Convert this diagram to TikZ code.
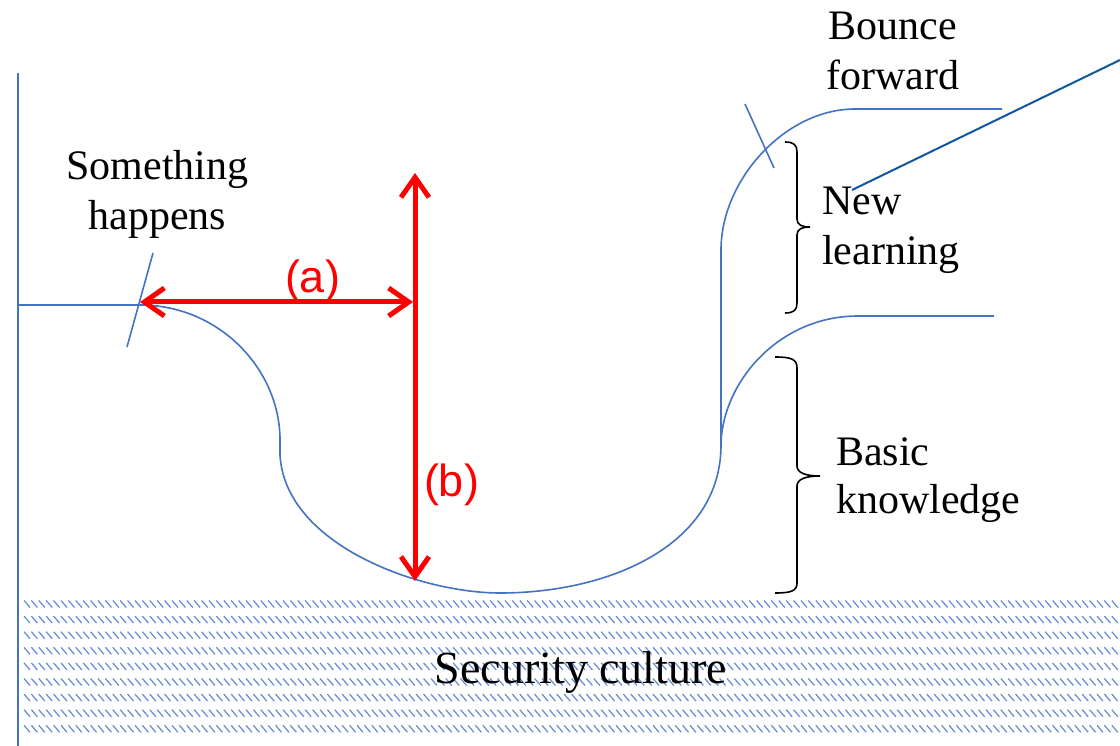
\documentclass[tikz,border=0pt]{standalone}
\usepackage{fontspec}
\setmainfont{Liberation Serif}
\newfontfamily\arialfont{Liberation Sans}
\usetikzlibrary{arrows.meta}
\definecolor{curveblue}{RGB}{68,114,196}
\definecolor{hatchblue}{RGB}{100,138,215}
\definecolor{pointerblue}{RGB}{16,86,160}
\begin{document}
\begin{tikzpicture}[x=1pt,y=-1pt,
  curve/.style={draw=curveblue, line width=1.6pt},
  hatchline/.style={draw=hatchblue, line width=1.2pt},
  redarrow/.style={draw=red, line width=5pt, line cap=round,
    {Straight Barb[length=20pt,width=28pt]}-{Straight Barb[length=20pt,width=28pt]}},
  bracestyle/.style={draw=black, line width=1.6pt},
  lbl/.style={font=\fontsize{42}{50}\selectfont, inner sep=0pt, text=black},
  redlbl/.style={font=\arialfont\fontsize{45}{50}\selectfont, inner sep=0pt, text=red, anchor=base}]
\useasboundingbox (0,0) rectangle (1120,746);
% hatched ground
\foreach \k in {0,...,8}{
  \foreach \j in {0,...,147}{
    \draw[hatchline] ({24+7.4*\j},{600.5+15.6*\k}) -- ++(6,7);
  }
}
\node[lbl, anchor=base] (sec) at (581,683) {\fontsize{46}{50}\selectfont Security culture};
% axis
\coordinate (axTop) at (18,73);
\coordinate (axBot) at (18,746);
\draw[curve, line width=2pt] (axTop) -- (axBot);
% main curve
\coordinate (start) at (18,305);
\coordinate (topEnd) at (1002,109);
\coordinate (brStart) at (721,442);
\coordinate (brEnd) at (994,316);
\draw[curve] (start) -- (140,305) .. controls (220,305) and (280,370) .. (280,440)
  -- (280,455) .. controls (285,545) and (420,593) .. (500,593)
  .. controls (610,593) and (721,545) .. (721,445)
  -- (721,250) .. controls (721,180) and (785,109) .. (855,109) -- (topEnd);
\draw[curve] (brStart) .. controls (724,380) and (780,316) .. (858,316) -- (brEnd);
% tick marks
\coordinate (t1a) at (127,347);
\coordinate (t1b) at (153,253);
\draw[curve] (t1a) -- (t1b);
\coordinate (t2a) at (745,104);
\coordinate (t2b) at (774,168);
\draw[curve] (t2a) -- (t2b);
% red arrows
\coordinate (aL) at (140,302);
\coordinate (aR) at (413,302);
\coordinate (bT) at (415,173);
\coordinate (bB) at (415,581);
\draw[redarrow] (aL) -- (aR);
\draw[redarrow] (bT) -- (bB);
\node[redlbl] (la) at (312.5,293) {(a)};
\node[redlbl] (lb) at (451.5,496) {(b)};
% braces
\draw[bracestyle] (785,142) .. controls (794,142) and (797,145) .. (797,152) -- (797,219)
  .. controls (797,225) and (802,227) .. (810,227)
  .. controls (802,227) and (797,229) .. (797,235) -- (797,303)
  .. controls (797,310) and (794,313) .. (785,313);
\draw[bracestyle] (775,357) .. controls (791,357) and (797,359) .. (797,368) -- (797,466)
  .. controls (797,473) and (806,476) .. (820,476)
  .. controls (806,476) and (797,479) .. (797,486) -- (797,583)
  .. controls (797,591) and (791,593) .. (775,593);
% labels
\node[lbl, anchor=base] (sh1) at (157.5,180) {Something};
\node[lbl, anchor=base] (sh2) at (157.5,230) {happens};
\node[lbl, anchor=base] (bf1) at (893,40) {Bounce};
\node[lbl, anchor=base] (bf2) at (893,90) {forward};
\node[lbl, anchor=base west] (nl1) at (822,215) {New};
\node[lbl, anchor=base west] (nl2) at (822,265) {learning};
\node[lbl, anchor=base west] (bk1) at (836,465) {Basic};
\node[lbl, anchor=base west] (bk2) at (836,513) {knowledge};
% pointer line
\coordinate (pS) at (852,190);
\coordinate (pE) at (1120,60);
\draw[draw=pointerblue, line width=2pt] (pS) -- (pE);
\end{tikzpicture}
\end{document}
